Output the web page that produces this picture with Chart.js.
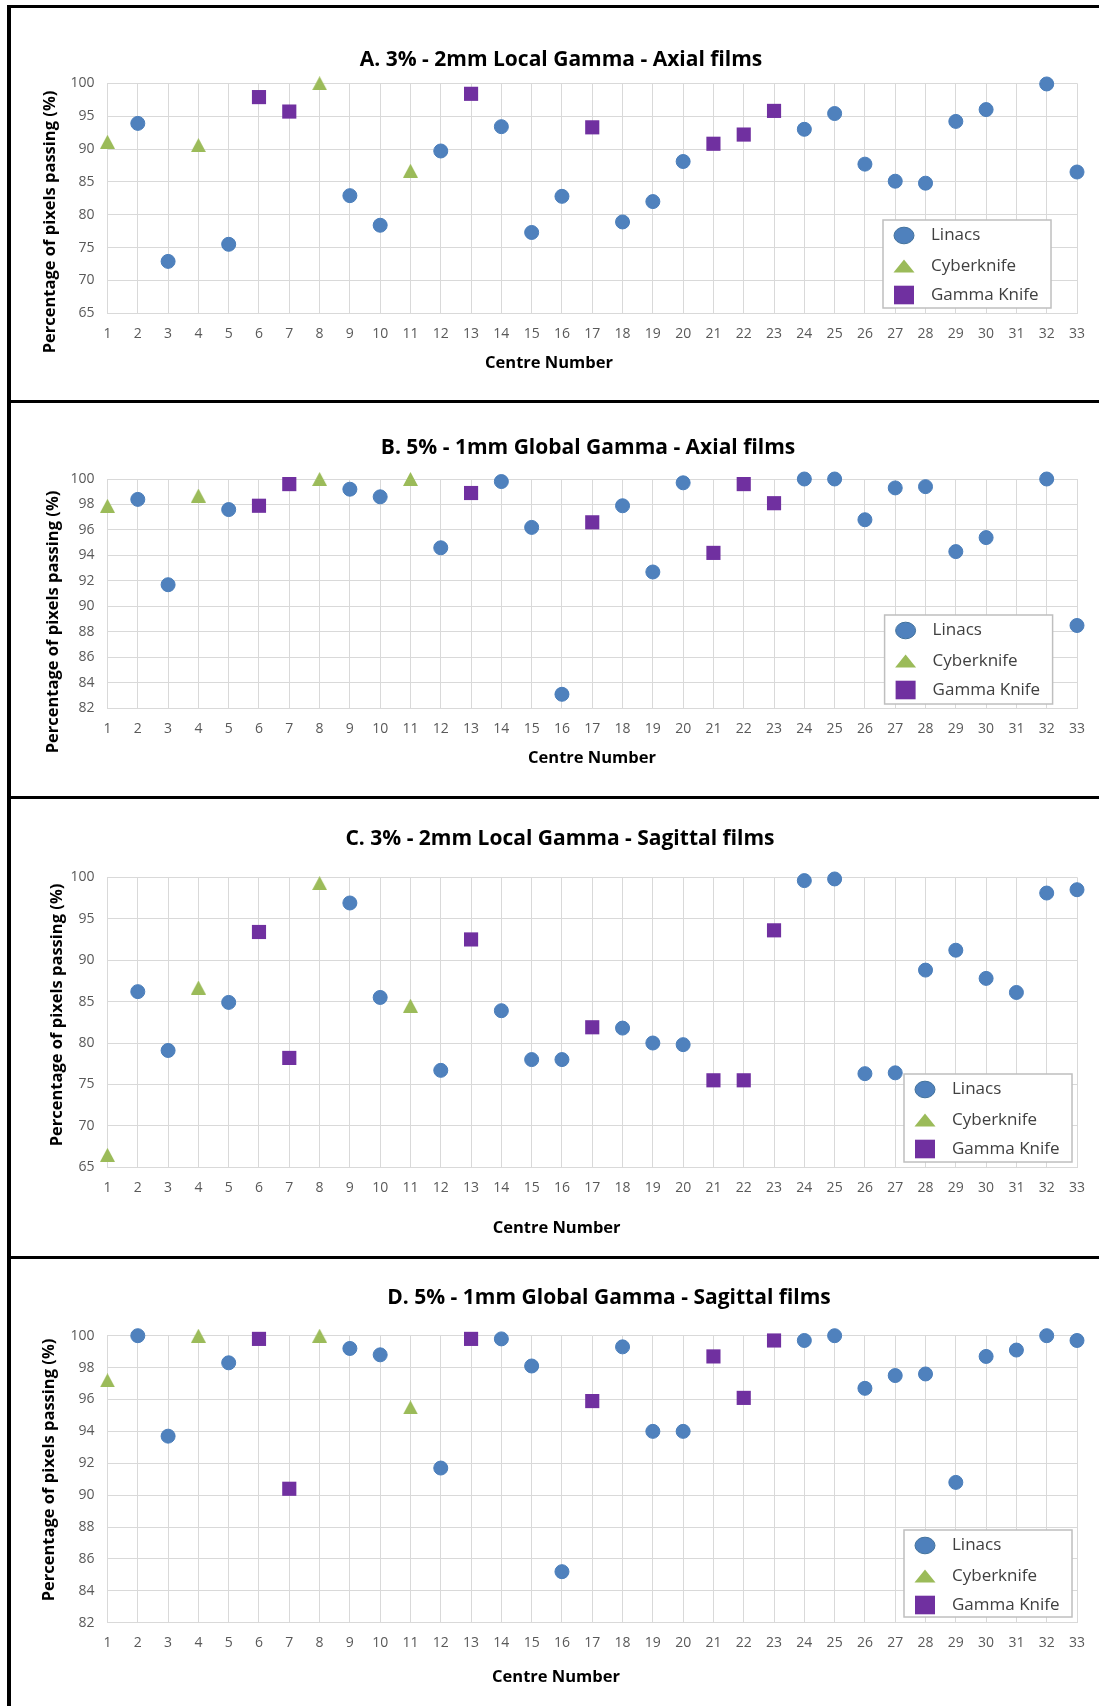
<!DOCTYPE html>
<html>
<head>
<meta charset="utf-8">
<script src="https://cdn.jsdelivr.net/npm/chart.js@4.4.0/dist/chart.umd.min.js"></script>
<style>
  html, body { margin: 0; padding: 0; background: #fff; overflow: hidden; }
  body { width: 1099px; height: 1706px; position: relative; }
  .panel { position: absolute; left: 7px; width: 1200px; border-top: 3px solid #000; border-left: 4px solid #000; box-sizing: border-box; }
  canvas { position: absolute; left: 10px; }
</style>
</head>
<body>
<div class="panel" style="top:5px;height:395px"></div>
<div class="panel" style="top:400px;height:396px"></div>
<div class="panel" style="top:796px;height:460px"></div>
<div class="panel" style="top:1256px;height:460px"></div>
<canvas id="chartA" width="1089" height="392" style="top:8px"></canvas>
<canvas id="chartB" width="1089" height="393" style="top:403px"></canvas>
<canvas id="chartC" width="1089" height="457" style="top:799px"></canvas>
<canvas id="chartD" width="1089" height="447" style="top:1259px"></canvas>
<script>
// centre numbers for each kind of machine
const linacCentres = [2, 3, 5, 9, 10, 12, 14, 15, 16, 18, 19, 20, 24, 25, 26, 27, 28, 29, 30, 31, 32, 33];
const cyberknifeCentres = [1, 4, 8, 11];
const gammaKnifeCentres = [6, 7, 13, 17, 21, 22, 23];

// A. 3% - 2mm local gamma, axial films
const linacA = [93.9, 72.9, 75.5, 82.9, 78.4, 89.7, 93.4, 77.3, 82.8, 78.9, 82.0, 88.1, 93.0, 95.4, 87.7, 85.1, 84.8, 94.2, 96.0, null, 99.9, 86.5];
const cyberA = [91.1, 90.6, 100, 86.7];
const gammaA = [97.9, 95.7, 98.4, 93.3, 90.8, 92.2, 95.8];

// B. 5% - 1mm global gamma, axial films
const linacB = [98.4, 91.7, 97.6, 99.2, 98.6, 94.6, 99.8, 96.2, 83.1, 97.9, 92.7, 99.7, 100, 100, 96.8, 99.3, 99.4, 94.3, 95.4, null, 100, 88.5];
const cyberB = [97.9, 98.7, 100, 100];
const gammaB = [97.9, 99.6, 98.9, 96.6, 94.2, 99.6, 98.1];

// C. 3% - 2mm local gamma, sagittal films
const linacC = [86.2, 79.1, 84.9, 96.9, 85.5, 76.7, 83.9, 78.0, 78.0, 81.8, 80.0, 79.8, 99.6, 99.8, 76.3, 76.4, 88.8, 91.2, 87.8, 86.1, 98.1, 98.5];
const cyberC = [66.5, 86.7, 99.3, 84.5];
const gammaC = [93.4, 78.2, 92.5, 81.9, 75.5, 75.5, 93.6];

// D. 5% - 1mm global gamma, sagittal films
const linacD = [100, 93.7, 98.3, 99.2, 98.8, 91.7, 99.8, 98.1, 85.2, 99.3, 94.0, 94.0, 99.7, 100, 96.7, 97.5, 97.6, 90.8, 98.7, 99.1, 100, 99.7];
const cyberD = [97.2, 100, 100, 95.5];
const gammaD = [99.8, 90.4, 99.8, 95.9, 98.7, 96.1, 99.7];

const seriesLabels = ["Linacs", "Cyberknife", "Gamma Knife"];
const BLUE = "#4F81BD", GREEN = "#9BBB59", PURPLE = "#7030A0";
const FONT = "'Open Sans', 'Noto Sans', sans-serif";

function toPoints(centres, values) {
    return centres.map((c, i) => ({ x: c, y: values[i] })).filter(p => p.y !== null);
}

// triangle marker centred on its box, like the spreadsheet one
function triangleMarker(w, h, color) {
    const c = document.createElement("canvas");
    c.width = w; c.height = h;
    const g = c.getContext("2d");
    g.fillStyle = color;
    g.beginPath();
    g.moveTo(w / 2, 0);
    g.lineTo(w, h);
    g.lineTo(0, h);
    g.closePath();
    g.fill();
    return c;
}
const plotTriangle = triangleMarker(15, 14, GREEN);

function drawLegendMarker(ctx, style, x, y, color) {
    ctx.fillStyle = color;
    ctx.beginPath();
    if (style === "circle") {
        ctx.ellipse(x, y, 10, 8.3, 0, 0, Math.PI * 2);
        ctx.fill();
        ctx.strokeStyle = "#41719C";
        ctx.lineWidth = 1;
        ctx.stroke();
    } else if (style === "triangle") {
        ctx.moveTo(x, y - 6.5);
        ctx.lineTo(x + 10.5, y + 6.5);
        ctx.lineTo(x - 10.5, y + 6.5);
        ctx.closePath();
        ctx.fill();
    } else {
        ctx.fillRect(x - 10, y - 9.3, 20, 18.6);
    }
}

// titles and legend box are placed like in the original figure
const panelText = {
    id: "panelText",
    afterDraw(chart, args, opts) {
        const ctx = chart.ctx;
        ctx.save();
        ctx.fillStyle = "#000";
        ctx.textAlign = "center";
        ctx.textBaseline = "middle";
        ctx.font = "bold 21px " + FONT;
        ctx.fillText(opts.title, opts.titleX, opts.titleY);
        ctx.font = "bold 16.5px " + FONT;
        ctx.fillText("Centre Number", opts.xTitleX, opts.xTitleY);
        ctx.translate(opts.yTitleX, opts.yTitleY);
        ctx.rotate(-Math.PI / 2);
        ctx.fillText("Percentage of pixels passing (%)", 0, 0);
        ctx.restore();

        const lg = opts.legend;
        ctx.save();
        ctx.fillStyle = "#fff";
        ctx.fillRect(lg.x, lg.y, lg.w, lg.h);
        ctx.strokeStyle = "#BFBFBF";
        ctx.lineWidth = 1.5;
        ctx.strokeRect(lg.x, lg.y, lg.w, lg.h);
        const rows = [15.5, 46, 75];
        const styles = ["circle", "triangle", "rect"];
        const colors = [BLUE, GREEN, PURPLE];
        chart.data.datasets.forEach((ds, i) => {
            const y = lg.y + rows[i];
            drawLegendMarker(ctx, styles[i], lg.x + 21, y, colors[i]);
            ctx.fillStyle = "#404040";
            ctx.font = "17px " + FONT;
            ctx.textAlign = "left";
            ctx.textBaseline = "middle";
            ctx.fillText(ds.label, lg.x + 48, y);
        });
        ctx.restore();
    }
};

function makePanel(id, cfg) {
    const tickFont = { family: FONT, size: 14 };
    new Chart(document.getElementById(id), {
        type: "scatter",
        data: {
            datasets: [
                {
                    label: seriesLabels[0],
                    data: toPoints(linacCentres, cfg.linac),
                    pointStyle: "circle",
                    pointRadius: 7,
                    pointHoverRadius: 7,
                    backgroundColor: BLUE,
                    borderColor: "#4A7EBB",
                    borderWidth: 1,
                    clip: false
                },
                {
                    label: seriesLabels[1],
                    data: toPoints(cyberknifeCentres, cfg.cyber),
                    pointStyle: plotTriangle,
                    pointRadius: 7,
                    backgroundColor: GREEN,
                    borderColor: GREEN,
                    clip: false
                },
                {
                    label: seriesLabels[2],
                    data: toPoints(gammaKnifeCentres, cfg.gamma),
                    pointStyle: "rect",
                    pointRadius: 10,
                    pointHoverRadius: 10,
                    backgroundColor: PURPLE,
                    borderColor: PURPLE,
                    borderWidth: 0,
                    clip: false
                }
            ]
        },
        options: {
            responsive: false,
            animation: false,
            devicePixelRatio: 1,
            layout: {
                padding: { left: 0, right: 22, top: cfg.plotTop, bottom: 0 }
            },
            plugins: {
                legend: { display: false },
                title: { display: false },
                tooltip: { enabled: false },
                panelText: cfg.text
            },
            scales: {
                x: {
                    type: "linear",
                    min: 1,
                    max: 33,
                    ticks: {
                        stepSize: 1,
                        autoSkip: false,
                        maxRotation: 0,
                        padding: 12,
                        color: "#595959",
                        font: tickFont
                    },
                    grid: { color: "#D9D9D9", drawTicks: false },
                    border: { color: "#D9D9D9" },
                    afterFit: s => { s.height = cfg.xAxisHeight; }
                },
                y: {
                    min: cfg.yMin,
                    max: 100,
                    ticks: {
                        stepSize: cfg.yStep,
                        padding: 13,
                        color: "#595959",
                        font: tickFont
                    },
                    grid: { color: "#D9D9D9", drawTicks: false },
                    border: { color: "#D9D9D9" },
                    afterFit: s => { s.width = 97.5; }
                }
            }
        },
        plugins: [panelText]
    });
}

makePanel("chartA", {
    linac: linacA, cyber: cyberA, gamma: gammaA,
    yMin: 65, yStep: 5, plotTop: 75.3, xAxisHeight: 86.7,
    text: {
        title: "A. 3% - 2mm Local Gamma - Axial films", titleX: 551, titleY: 52,
        xTitleX: 539, xTitleY: 355, yTitleX: 40, yTitleY: 214,
        legend: { x: 873, y: 212, w: 168, h: 88 }
    }
});

makePanel("chartB", {
    linac: linacB, cyber: cyberB, gamma: gammaB,
    yMin: 82, yStep: 2, plotTop: 76, xAxisHeight: 87.7,
    text: {
        title: "B. 5% - 1mm Global Gamma - Axial films", titleX: 578, titleY: 45,
        xTitleX: 582, xTitleY: 355, yTitleX: 43.6, yTitleY: 219,
        legend: { x: 874.6, y: 212, w: 168, h: 89 }
    }
});

makePanel("chartC", {
    linac: linacC, cyber: cyberC, gamma: gammaC,
    yMin: 65, yStep: 5, plotTop: 78.3, xAxisHeight: 88.7,
    text: {
        title: "C. 3% - 2mm Local Gamma - Sagittal films", titleX: 550, titleY: 40,
        xTitleX: 546.6, xTitleY: 429, yTitleX: 47, yTitleY: 216,
        legend: { x: 894, y: 275, w: 168, h: 88 }
    }
});

makePanel("chartD", {
    linac: linacD, cyber: cyberD, gamma: gammaD,
    yMin: 82, yStep: 2, plotTop: 76.7, xAxisHeight: 83.3,
    text: {
        title: "D. 5% - 1mm Global Gamma - Sagittal films", titleX: 599, titleY: 39,
        xTitleX: 546, xTitleY: 418, yTitleX: 39, yTitleY: 211,
        legend: { x: 894, y: 271, w: 168, h: 87 }
    }
});
</script>
</body>
</html>
